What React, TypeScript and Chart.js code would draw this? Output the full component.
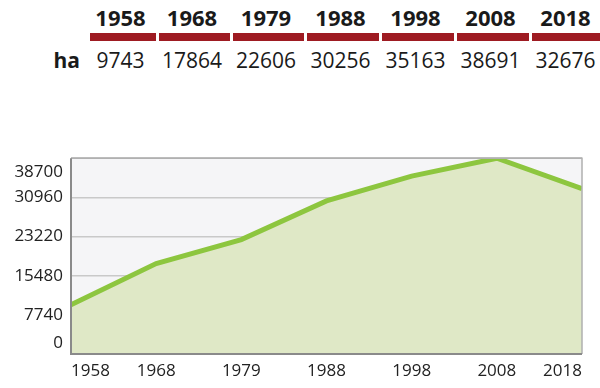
import React, { useEffect, useRef } from "react";
import { Chart, registerables } from "chart.js";

Chart.register(...registerables);

const years = ["1958", "1968", "1979", "1988", "1998", "2008", "2018"];
const hectares = [9743, 17864, 22606, 30256, 35163, 38691, 32676];
const unitLabel = "ha";
const yTickValues = [0, 7740, 15480, 23220, 30960, 38700];

const FONT = "'Open Sans', 'Liberation Sans', sans-serif";
const colWidths = [66, 71, 71, 72, 72, 72, 72];

const plotFrame = {
  id: "plotFrame",
  beforeDraw(chart: any) {
    const { ctx, chartArea: a } = chart;
    ctx.save();
    ctx.fillStyle = "#f5f5f7";
    ctx.fillRect(a.left, a.top, a.right - a.left, a.bottom - a.top);
    ctx.restore();
    // nudge the end labels of the value axis inward
    const s = chart.scales.y;
    const items = s.getLabelItems(a);
    if (items && items.length) {
      items[0].options.translation[1] -= 11;
      items[items.length - 1].options.translation[1] += 14;
    }
  },
  afterDatasetsDraw(chart: any) {
    const { ctx, chartArea: a } = chart;
    ctx.save();
    ctx.lineWidth = 1.5;
    ctx.strokeStyle = "#b0b0b0";
    ctx.beginPath();
    ctx.moveTo(a.left, a.top);
    ctx.lineTo(a.right, a.top);
    ctx.lineTo(a.right, a.bottom);
    ctx.stroke();
    ctx.strokeStyle = "#8a8a8a";
    ctx.lineWidth = 2;
    ctx.beginPath();
    ctx.moveTo(a.left, a.top);
    ctx.lineTo(a.left, a.bottom);
    ctx.lineTo(a.right, a.bottom);
    ctx.stroke();
    ctx.restore();
  },
};

function AreaChart() {
  const ref = useRef<HTMLCanvasElement>(null);
  useEffect(() => {
    if (!ref.current) return;
    const chart = new Chart(ref.current, {
      type: "line",
      data: {
        labels: years,
        datasets: [
          {
            data: hectares,
            borderColor: "#8dc63f",
            borderWidth: 5,
            backgroundColor: "#dfe8c6",
            fill: "origin",
            pointRadius: 0,
            tension: 0,
            clip: 0,
          },
        ],
      },
      options: {
        animation: false,
        responsive: true,
        maintainAspectRatio: false,
        layout: { padding: { top: 15, right: 18, left: 0, bottom: 0 } },
        plugins: { legend: { display: false }, tooltip: { enabled: false } },
        scales: {
          x: {
            offset: false,
            grid: { display: false, drawTicks: false },
            border: { display: false },
            ticks: {
              align: "inner",
              padding: 7,
              color: "#222",
              font: { family: FONT, size: 17 },
              maxRotation: 0,
              autoSkip: false,
            },
            afterFit: (s: any) => {
              s.height = 34;
            },
          },
          y: {
            min: 0,
            max: 38700,
            grid: { color: "#c9c9c9", lineWidth: 1.5, drawTicks: false },
            border: { display: false },
            afterBuildTicks: (s: any) => {
              s.ticks = yTickValues.map((v) => ({ value: v }));
            },
            ticks: {
              padding: 8,
              color: "#222",
              font: { family: FONT, size: 17 },
              callback: (v: any) => String(v),
            },
            afterFit: (s: any) => {
              s.width = 71;
            },
          },
        },
      },
      plugins: [plotFrame],
    });
    return () => chart.destroy();
  }, []);
  return <canvas ref={ref} />;
}

export default function App() {
  const cellBase: React.CSSProperties = {
    boxSizing: "border-box",
    textAlign: "center",
    paddingRight: 5,
    lineHeight: "26px",
    color: "#1a1a1a",
    fontFamily: FONT,
    whiteSpace: "nowrap",
  };
  return (
    <div
      style={{
        position: "absolute",
        left: 0,
        top: 0,
        width: 600,
        height: 388,
        background: "#fff",
        overflow: "hidden",
      }}
    >
      <div style={{ position: "absolute", top: 4, left: 90, display: "flex", gap: 3 }}>
        {years.map((y, i) => (
          <div
            key={y}
            style={{
              ...cellBase,
              width: colWidths[i],
              fontWeight: 700,
              fontSize: 22,
              paddingBottom: 3,
              borderBottom: "8px solid #9e1b22",
            }}
          >
            {y}
          </div>
        ))}
      </div>
      <div
        style={{
          ...cellBase,
          position: "absolute",
          top: 47,
          left: 0,
          width: 80,
          textAlign: "right",
          paddingRight: 0,
          fontWeight: 700,
          fontSize: 21,
        }}
      >
        {unitLabel}
      </div>
      <div style={{ position: "absolute", top: 47, left: 90, display: "flex", gap: 3 }}>
        {hectares.map((v, i) => (
          <div key={i} style={{ ...cellBase, width: colWidths[i], fontSize: 21 }}>
            {String(v)}
          </div>
        ))}
      </div>
      <div style={{ position: "absolute", top: 140, left: 0, width: 600, height: 248 }}>
        <AreaChart />
      </div>
    </div>
  );
}
